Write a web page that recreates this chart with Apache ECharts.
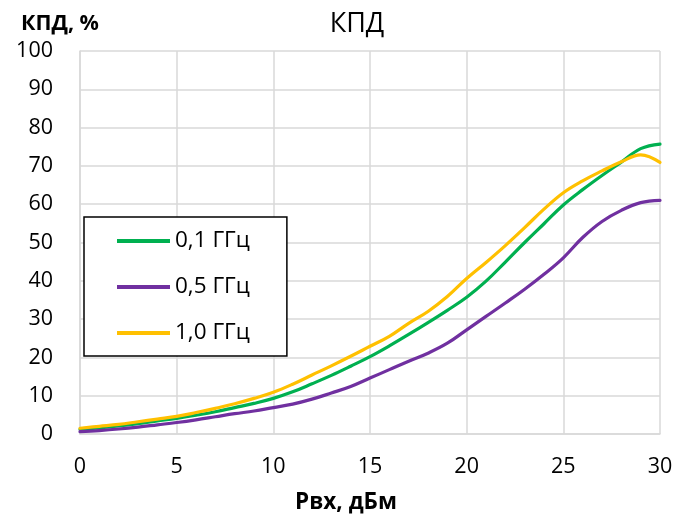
<!DOCTYPE html>
<html>
<head>
<meta charset="utf-8">
<script src="https://cdn.jsdelivr.net/npm/echarts@6/dist/echarts.min.js"></script>
<style>
html,body{margin:0;padding:0;background:#fff;}
#chart{width:691px;height:517px;}
</style>
</head>
<body>
<div id="chart"></div>
<script>
const xValues = [0,1,2,3,4,5,6,7,8,9,10,11,12,13,14,15,16,17,18,19,20,21,22,23,24,25,26,27,28,29,30];
const eff01 = [1.2,1.6,2.1,2.7,3.4,4.1,4.9,5.8,6.9,8.0,9.3,11.0,13.1,15.3,17.7,20.2,23.0,26.0,29.1,32.3,35.7,39.9,44.9,50.0,54.9,59.8,63.8,67.5,71.0,74.5,75.7];
const eff05 = [0.6,0.9,1.3,1.8,2.4,3.0,3.7,4.5,5.3,6.0,6.9,7.8,9.1,10.7,12.4,14.6,16.8,19.0,21.1,23.7,27.2,30.7,34.2,37.8,41.7,46.0,51.3,55.5,58.4,60.4,61.0];
const eff10 = [1.5,2.0,2.5,3.2,3.9,4.6,5.6,6.7,7.9,9.3,10.9,13.0,15.4,17.8,20.3,22.9,25.5,28.9,32.0,35.9,40.6,44.8,49.2,53.9,58.7,63.0,66.1,68.7,71.1,72.9,70.9];
const seriesNames = ['0,1 ГГц','0,5 ГГц','1,0 ГГц'];
const seriesColors = ['#00b050','#7030a0','#ffc000'];
const xTicks = [0,5,10,15,20,25,30];
const yTicks = [0,10,20,30,40,50,60,70,80,90,100];

const FONT = '"Open Sans", sans-serif';
const allData = [eff01, eff05, eff10];
const series = allData.map((vals, i) => ({
  name: seriesNames[i],
  type: 'line',
  smooth: 0.4,
  symbol: 'none',
  data: xValues.map((x, j) => [x, vals[j]]),
  lineStyle: { color: seriesColors[i], width: 3.2, cap: 'round', join: 'round' },
  itemStyle: { color: seriesColors[i] }
}));

const chart = echarts.init(document.getElementById('chart'), null, { renderer: 'canvas' });
chart.setOption({
  animation: false,
  backgroundColor: '#ffffff',
  textStyle: { fontFamily: FONT },
  title: [
    { text: 'КПД', left: 352, top: 6, textAlign: 'center',
      textStyle: { fontFamily: FONT, fontSize: 27, fontWeight: 'normal', color: '#000' } },
    { text: 'КПД, %', left: 16, top: 8,
      textStyle: { fontFamily: FONT, fontSize: 21.5, fontWeight: 'bold', color: '#000' } },
    { text: 'Рвх, дБм', left: 341, top: 486, textAlign: 'center',
      textStyle: { fontFamily: FONT, fontSize: 22.5, fontWeight: 'bold', color: '#000' } }
  ],
  legend: {
    orient: 'vertical',
    left: 84, top: 217,
    padding: [11, 37, 10, 33],
    itemGap: 20,
    itemWidth: 53,
    itemHeight: 4,
    icon: 'rect',
    borderColor: '#000',
    borderWidth: 1.5,
    backgroundColor: '#fff',
    textStyle: { fontFamily: FONT, fontSize: 22.5, color: '#000', lineHeight: 26, padding: [0,0,0,0] },
    data: seriesNames
  },
  grid: { left: 80, right: 31, top: 51, bottom: 83, containLabel: false },
  xAxis: {
    type: 'value', min: 0, max: 30, interval: 5,
    axisLine: { show: true, lineStyle: { color: '#d9d9d9', width: 1.5 } },
    axisTick: { show: false },
    splitLine: { show: true, lineStyle: { color: '#d9d9d9', width: 1.5 } },
    axisLabel: { fontFamily: FONT, fontSize: 21.5, color: '#000', margin: 22,
      formatter: v => xTicks.includes(v) ? String(v) : '' }
  },
  yAxis: {
    type: 'value', min: 0, max: 100, interval: 10,
    axisLine: { show: true, lineStyle: { color: '#d9d9d9', width: 1.5 } },
    axisTick: { show: false },
    splitLine: { show: true, lineStyle: { color: '#d9d9d9', width: 1.5 } },
    axisLabel: { fontFamily: FONT, fontSize: 21.5, color: '#000', margin: 27,
      formatter: v => yTicks.includes(v) ? String(v) : '' }
  },
  series: series
});
</script>
</body>
</html>
